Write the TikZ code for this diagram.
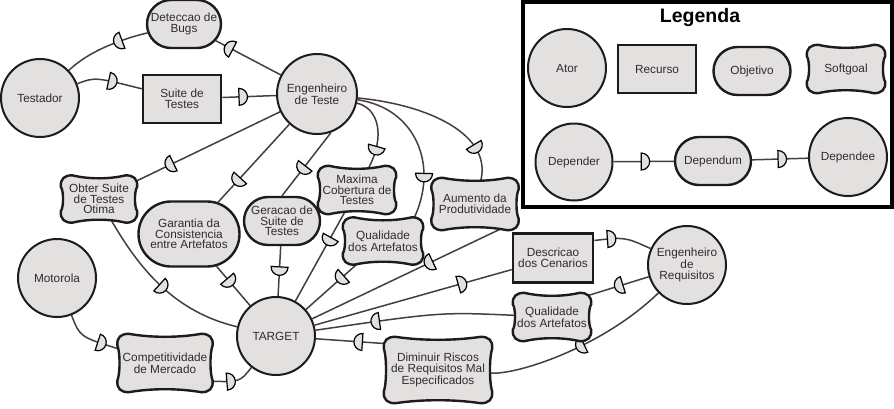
\documentclass[tikz,border=0pt]{standalone}
\usepackage{fontspec}
\setmainfont{Liberation Sans}
\usetikzlibrary{shapes.misc,decorations.markings,calc}
\pgfdeclarelayer{background}
\pgfdeclarelayer{edges}
\pgfdeclarelayer{softs}
\pgfsetlayers{background,edges,softs,main}
\definecolor{nodefill}{RGB}{227,224,224}
\definecolor{linkc}{RGB}{72,60,68}
\definecolor{textc}{RGB}{48,44,46}
\definecolor{borderc}{RGB}{30,27,29}

\newcommand{\dmark}{\draw[fill=nodefill, draw=black, line width=1.2pt] (-4.25pt,-8.5pt) arc[start angle=-90, end angle=90, radius=8.5pt] -- cycle;}
\newcommand{\softshape}[1]{%
  \path[draw=borderc, fill=nodefill, line width=2.4pt]
    let \p1=(#1.north west), \p2=(#1.south east),
        \n1={0.35*(\x2-\x1)}, \n2={0.3*(\y1-\y2)} in
    (\x1+9pt,\y1+2.5pt)
    .. controls ({\x1+\n1},{\y1-1.5pt}) and ({\x2-\n1},{\y1-1.5pt}) .. (\x2-9pt,\y1+2.5pt)
    .. controls (\x2-1pt,\y1+2.5pt) and (\x2+3pt,\y1-1pt) .. (\x2+2.5pt,\y1-9pt)
    .. controls ({\x2-0.5pt},{\y1-\n2}) and ({\x2-0.5pt},{\y2+\n2}) .. (\x2+2.5pt,\y2+9pt)
    .. controls (\x2+3pt,\y2+1pt) and (\x2-1pt,\y2-2.5pt) .. (\x2-9pt,\y2-2.5pt)
    .. controls ({\x2-\n1},{\y2+1.5pt}) and ({\x1+\n1},{\y2+1.5pt}) .. (\x1+9pt,\y2-2.5pt)
    .. controls (\x1+1pt,\y2-2.5pt) and (\x1-3pt,\y2+1pt) .. (\x1-2.5pt,\y2+9pt)
    .. controls ({\x1+0.5pt},{\y2+\n2}) and ({\x1+0.5pt},{\y1-\n2}) .. (\x1-2.5pt,\y1-9pt)
    .. controls (\x1-3pt,\y1-1pt) and (\x1+1pt,\y1+2.5pt) .. cycle;}

\begin{document}
\begin{tikzpicture}[x=1pt, y=-1pt,
    font=\fontsize{11.8}{10.6}\selectfont,
    every node/.style={text=textc, align=center, inner sep=1pt},
    actor/.style={circle, draw=borderc, line width=2pt, fill=nodefill, minimum size=#1}, actor/.default=78,
    goal/.style args={#1/#2}{rounded rectangle, draw=borderc, line width=2.4pt, fill=nodefill, minimum width=#1, minimum height=#2},
    resource/.style args={#1/#2}{rectangle, draw=borderc, line width=2.6pt, fill=nodefill, minimum width=#1, minimum height=#2},
    softgoal/.style args={#1/#2}{minimum width=#1, minimum height=#2},
    deplink/.style={draw=linkc, line width=1.5pt, decoration={markings, mark=at position #1 with {\dmark}}, postaction={decorate}}, deplink/.default=0.5]
    \begin{pgfonlayer}{background}
        \path[fill=white] (0,0) rectangle (894,408);
    \end{pgfonlayer}
    \useasboundingbox (0,0) rectangle (894,408);

    \node[actor] (testador) at (40,98) {Testador};
    \node[actor=80] (engteste) at (317,94) {Engenheiro\\de Teste};
    \node[actor] (motorola) at (57,278) {Motorola};
    \node[actor] (target) at (276,336) {TARGET};
    \node[actor] (engreq) at (687,265) {Engenheiro\\de\\Requisitos};

    \node[goal=76/48] (bugs) at (184,24) {Deteccao de\\Bugs};
    \node[goal=103/65] (garantia) at (189,234) {Garantia da\\Consistencia\\entre Artefatos};
    \node[goal=78/48] (geracao) at (282,221) {Geracao de\\Suite de\\Testes};

    \node[resource=78/48] (suite) at (182,99) {Suite de\\Testes};
    \node[resource=80/49] (descricao) at (553,258) {Descricao\\dos Cenarios};

    \node[softgoal=71/42] (obter) at (99,199) {Obter Suite\\de Testes\\Otima};
    \node[softgoal=73/43] (maxima) at (357,190) {Maxima\\Cobertura de\\Testes};
    \node[softgoal=75/42] (qualA) at (383,241) {Qualidade\\dos Artefatos};
    \node[softgoal=82/47] (aumento) at (475,204) {Aumento da\\Produtividade};
    \node[softgoal=90/53] (comp) at (165,363) {Competitividade\\de Mercado};
    \node[softgoal=73/43] (qualB) at (552,317) {Qualidade\\dos Artefatos};
    \node[softgoal=103/61] (diminuir) at (438,370) {Diminuir Riscos\\de Requisitos Mal\\Especificados};

    \draw[line width=4pt] (522.5,2) rectangle (892,207);
    \node[text=black, font=\bfseries\fontsize{19.5}{19.5}\selectfont] (legenda) at (700,17) {Legenda};
    \node[actor] (ator) at (567,68) {Ator};
    \node[resource=78/48] (recurso) at (657,69) {Recurso};
    \node[goal=79/48] (objetivo) at (752,71) {Objetivo};
    \node[softgoal=73/43] (legsoft) at (846,69) {Softgoal};
    \node[actor=77] (depender) at (574,162) {Depender};
    \node[goal=78/48] (dependum) at (713,161) {Dependum};
    \node[actor] (dependee) at (848,157) {Dependee};

    \begin{pgfonlayer}{softs}
        \foreach \s in {obter,maxima,qualA,aumento,comp,qualB,diminuir,legsoft}{
            \softshape{\s}
        }
    \end{pgfonlayer}

    \begin{pgfonlayer}{edges}
        \draw[deplink=0.8] (engteste) -- (bugs);
        \draw[deplink=0.35] (bugs) .. controls (118,40) and (88,52) .. (testador);
        \draw[deplink=0.55] (testador) .. controls (95,77) .. (suite);
        \draw[deplink=0.39] (suite) -- (engteste);
        \draw[deplink=0.76] (engteste) -- (obter);
        \draw[deplink=0.5] (obter) .. controls (140,270) and (175,312) .. (target);
        \draw[deplink=0.73] (engteste) -- (garantia);
        \draw[deplink=0.4] (garantia) -- (target);
        \draw[deplink=0.58] (engteste.-70) -- (geracao.north);
        \draw[deplink=0.5] (geracao) -- (target);
        \draw[deplink=0.75] (engteste) .. controls (378,108) and (386,135) .. (maxima);
        \draw[deplink=0.33] (maxima) -- (target);
        \draw[deplink=0.72] (engteste) .. controls (415,108) and (440,165) .. (qualA.35);
        \draw[deplink=0.35] (qualA) -- (target);
        \draw[deplink=0.8] (engteste) .. controls (430,105) and (492,135) .. (aumento);
        \draw[deplink=0.39] (aumento.-40) -- (target);
        \draw[deplink=0.75] (target) -- (descricao);
        \draw[deplink=0.3] (descricao.23) .. controls (625,237) .. (engreq);
        \draw[deplink=0.5] (engreq) -- (qualB.north east);
        \draw[deplink=0.7] (qualB) .. controls (440,312) .. (target);
        \draw[deplink=0.5] (engreq) .. controls (605,345) and (520,375) .. (diminuir);
        \draw[deplink=0.4] (diminuir.153) -- (target);
        \draw[deplink=0.7] (motorola) .. controls (80,337) .. (comp);
        \draw[deplink=0.45] (comp.-22) .. controls (240,382) .. (target);
        \draw[deplink=0.53] (depender) -- (dependum);
        \draw[deplink=0.54] (dependum) -- (dependee);
    \end{pgfonlayer}
\end{tikzpicture}
\end{document}
